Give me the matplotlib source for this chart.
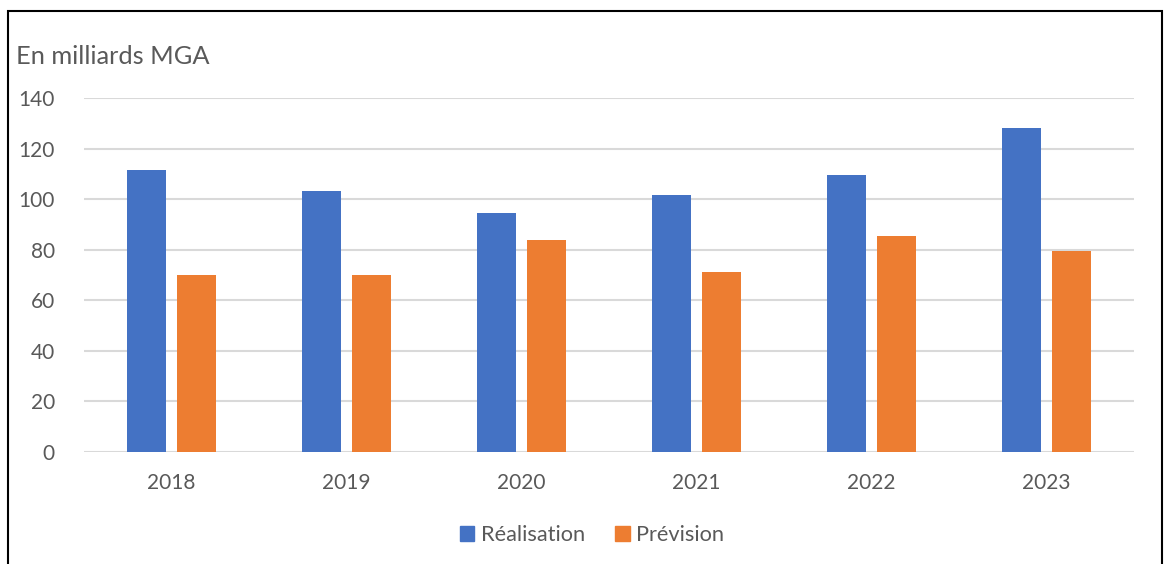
import matplotlib
matplotlib.use('Agg')
import matplotlib.pyplot as plt
from matplotlib.patches import Rectangle, Patch
import numpy as np

years = ['2018', '2019', '2020', '2021', '2022', '2023']
realisation = [111.5, 103.3, 94.6, 101.7, 109.5, 128.0]
prevision = [70.1, 70.1, 84.0, 71.3, 85.6, 79.3]

BLUE = '#4472C4'
ORANGE = '#ED7D31'
GREY = '#595959'

plt.rcParams['font.family'] = ['Lato', 'DejaVu Sans']

W, H = 1165, 564
fig = plt.figure(figsize=(W / 100, H / 100), dpi=100)
ax = fig.add_axes([84 / W, (H - 452) / H, 1050 / W, 354 / H])

x = np.arange(len(years))
off = 0.1414
bw = 0.223
ax.bar(x - off, realisation, bw, color=BLUE, zorder=3)
ax.bar(x + off, prevision, bw, color=ORANGE, zorder=3)

ax.set_xlim(-0.5, len(years) - 0.5)
ax.set_ylim(0, 140)
ax.set_yticks(range(0, 141, 20))
ax.set_xticks(x)
ax.set_xticklabels(years)
ax.yaxis.grid(True, color='#D9D9D9', linewidth=1.5, zorder=0)
ax.set_axisbelow(True)
for s in ax.spines.values():
    s.set_visible(False)
ax.tick_params(length=0, labelsize=15, labelcolor=GREY)
ax.tick_params(axis='y', pad=21)
ax.tick_params(axis='x', pad=15)

fig.text(16 / W, 1 - 57 / H, 'En milliards MGA', fontsize=18.3, color=GREY,
         ha='left', va='center')

handles = [Patch(color=BLUE, label='Réalisation'), Patch(color=ORANGE, label='Prévision')]
fig.legend(handles=handles, loc='center', bbox_to_anchor=(592 / W, 1 - 535 / H),
           ncol=2, frameon=False, fontsize=15.7, labelcolor=GREY,
           handlelength=0.65, handleheight=0.65, handletextpad=0.3, columnspacing=1.4)

# outer frame of the chart area
fig.patches.append(Rectangle((8 / W, -0.05), (1162 - 8) / W, 1.05 - 10.5 / H,
                             transform=fig.transFigure, fill=False,
                             edgecolor='black', linewidth=1.5))

plt.savefig('out.png', dpi=100)
